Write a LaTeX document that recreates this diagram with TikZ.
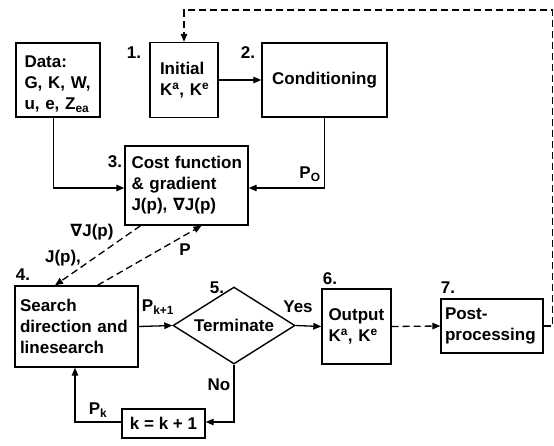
\documentclass[tikz,border=0pt]{standalone}
\usepackage{fontspec}
\setmainfont{Liberation Sans}
\newfontfamily\symfnt{DejaVu Sans}
\usetikzlibrary{shapes.geometric,arrows.meta}
\newcommand{\nab}{{\symfnt\bfseries ∇}}
\begin{document}
\begin{tikzpicture}[x=1pt,y=-1pt,
  every node/.style={font=\bfseries\fontsize{17}{21}\selectfont,inner sep=0pt},
  box/.style={draw,line width=1.4pt,align=left},
  lbl/.style={},
  conn/.style={line width=1.3pt,-{Triangle[length=8pt,width=6.5pt]}},
  dconn/.style={conn,dash pattern=on 7pt off 4pt}]
\useasboundingbox (0,0) rectangle (554,445);
% boxes
\node[box,minimum width=84pt,minimum height=74pt,text width=67pt] (data) at (58,80)
  {\rule{0pt}{20pt}Data:\\\mbox{G, K, W,}\\\mbox{u, e, Z\textsubscript{ea}}};
\node[box,minimum width=68pt,minimum height=75pt,text width=48pt] (init) at (184,80)
  {Initial\\\mbox{K\textsuperscript{a}, K\textsuperscript{e}}};
\node[box,minimum width=125pt,minimum height=74pt,align=center] (cond) at (324.5,80) {Conditioning};
\node[box,minimum width=123pt,minimum height=79pt,text width=110pt] (cost) at (186.5,185.5)
  {\mbox{Cost function}\\\mbox{\& gradient}\\\mbox{J(p), \nab J(p)}};
\node[box,minimum width=123pt,minimum height=81pt,text width=113pt] (search) at (76.5,326.5)
  {Search\\\mbox{direction and}\\linesearch};
\node[draw,line width=1.4pt,shape=diamond,aspect=1.58,minimum width=122pt,minimum height=77pt] (term) at (234,325.5) {Terminate};
\node[box,minimum width=69pt,minimum height=75pt,text width=56pt] (out) at (356.5,326.5)
  {Output\\\mbox{K\textsuperscript{a}, K\textsuperscript{e}}};
\node[box,minimum width=102pt,minimum height=54pt,text width=94pt] (post) at (492,326)
  {Post-\\processing};
\node[box,minimum width=83pt,minimum height=29pt,align=center] (kbox) at (163.5,423.5) {k~=~k~+~1};
% number labels
\node[lbl] (n1) at (134,53) {1.};
\node[lbl] (n2) at (248,53) {2.};
\node[lbl] (n3) at (115,162) {3.};
\node[lbl] (n4) at (23,275) {4.};
\node[lbl] (n5) at (217,288) {5.};
\node[lbl] (n6) at (330,279) {6.};
\node[lbl] (n7) at (448,288) {7.};
% connector labels
\node[lbl] (lp0) at (310,174) {P\textsubscript{O}};
\node[lbl] (lpk1) at (158,307) {P\textsubscript{k+1}};
\node[lbl] (lyes) at (298,307) {Yes};
\node[lbl] (lno) at (219,385) {No};
\node[lbl] (lpk) at (98,410) {P\textsubscript{k}};
\node[lbl] (lgrad) at (92,232) {\nab J(p)};
\node[lbl] (ljp) at (63,258) {J(p),};
\node[lbl] (lP) at (185,250) {P};
% coordinates
\coordinate (fbr) at (552.5,10);
% connectors
\draw[conn] (init.east) -- (cond.west);
\draw[conn] ([xshift=-4.5pt]data.south) |- ([yshift=-2.5pt]cost.west);
\draw[conn] (cond.south) |- ([yshift=-2.5pt]cost.east);
\draw[dconn] ([xshift=-46pt]cost.south) -- ([xshift=-21.5pt]search.north);
\draw[dconn] ([xshift=21pt]search.north) -- ([xshift=15pt]cost.south);
\draw[conn] (search.east) -- (term.west);
\draw[conn] (term.east) -- (out.west);
\draw[dconn] (out.east) -- (post.west);
\draw[conn] (term.south) |- ([yshift=1.5pt]kbox.east);
\draw[conn] ([yshift=1.5pt]kbox.west) -| ([xshift=-1.5pt]search.south);
\draw[dconn] (post.east) -| (fbr) -- (init.north |- fbr) -- (init.north);
\end{tikzpicture}
\end{document}
